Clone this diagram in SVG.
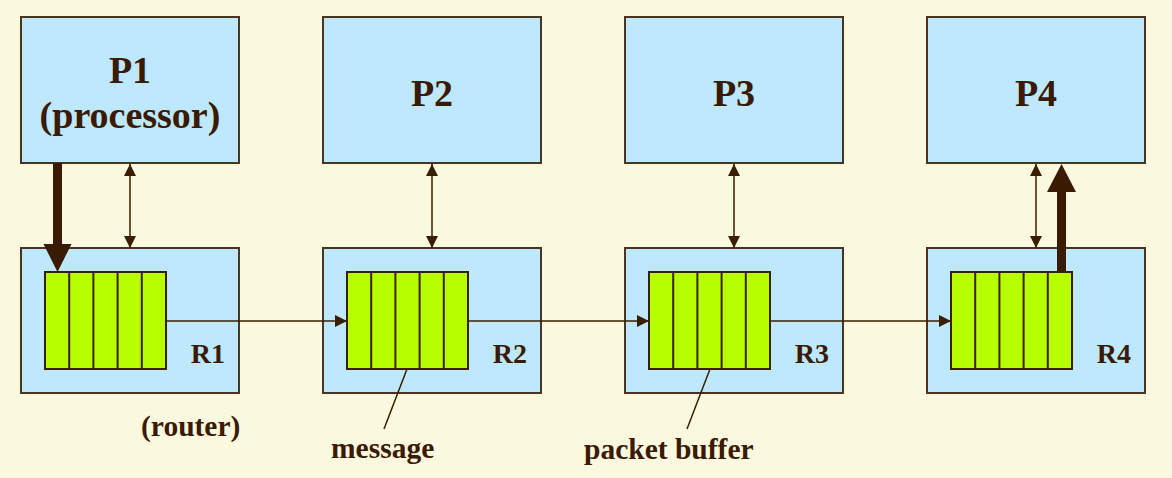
<svg xmlns="http://www.w3.org/2000/svg" width="1172" height="478" viewBox="0 0 1172 478">
<defs>
<style>
.bg{fill:#FAF8DE}
.box{fill:#BDE8FD;stroke:#4A3422;stroke-width:2}
.buf{fill:#B7FF00;stroke:#3A1E00;stroke-width:2}
.cell{stroke:#3A1E00;stroke-width:2}
.thin{stroke:#3A1E00;stroke-width:1.5;fill:none}
.thick{fill:#3A1A00}
.big{font-family:'Liberation Serif','Times New Roman',Times,'DejaVu Serif',serif;font-weight:700;font-size:38px;fill:#3A1A00;text-anchor:middle}
.small{font-family:'Liberation Serif','Times New Roman',Times,'DejaVu Serif',serif;font-weight:700;font-size:29.5px;fill:#3A1A00}
.rl{font-family:'Liberation Serif','Times New Roman',Times,'DejaVu Serif',serif;font-weight:700;font-size:28px;fill:#3A1A00;text-anchor:end}
</style>
<marker id="ah" viewBox="0 0 12 12" refX="12" refY="6" markerWidth="12" markerHeight="12" markerUnits="userSpaceOnUse" orient="auto-start-reverse">
<path d="M0,0 L12,6 L0,12 z" fill="#3A1E00"/>
</marker>
</defs>
<rect class="bg" x="0" y="0" width="1172" height="478"/>

<g id="P1"><rect class="box" x="21" y="17" width="218" height="146"/><text class="big" x="130" y="83">P1</text><text class="big" x="130" y="128">(processor)</text></g>
<g id="P2"><rect class="box" x="323" y="17" width="218" height="146"/><text class="big" x="432" y="106">P2</text></g>
<g id="P3"><rect class="box" x="625" y="17" width="218" height="146"/><text class="big" x="734" y="106">P3</text></g>
<g id="P4"><rect class="box" x="927" y="17" width="218" height="146"/><text class="big" x="1036" y="106">P4</text></g>

<g id="R1"><rect class="box" x="21" y="248" width="218" height="145"/>
<rect class="buf" x="45" y="272" width="121" height="97"/>
<path class="cell" d="M69.2,272V369M93.4,272V369M117.6,272V369M141.8,272V369"/>
<text class="rl" x="225" y="363">R1</text></g>
<g id="R2"><rect class="box" x="323" y="248" width="218" height="145"/>
<rect class="buf" x="347" y="272" width="121" height="97"/>
<path class="cell" d="M371.2,272V369M395.4,272V369M419.6,272V369M443.8,272V369"/>
<text class="rl" x="527" y="363">R2</text></g>
<g id="R3"><rect class="box" x="625" y="248" width="218" height="145"/>
<rect class="buf" x="649" y="272" width="121" height="97"/>
<path class="cell" d="M673.2,272V369M697.4,272V369M721.6,272V369M745.8,272V369"/>
<text class="rl" x="829" y="363">R3</text></g>
<g id="R4"><rect class="box" x="927" y="248" width="218" height="145"/>
<rect class="buf" x="951" y="272" width="121" height="97"/>
<path class="cell" d="M975.2,272V369M999.4,272V369M1023.6,272V369M1047.8,272V369"/>
<text class="rl" x="1131" y="363">R4</text></g>

<g id="connectors">
<line class="thin" x1="130" y1="164" x2="130" y2="248" marker-start="url(#ah)" marker-end="url(#ah)"/>
<line class="thin" x1="432" y1="164" x2="432" y2="248" marker-start="url(#ah)" marker-end="url(#ah)"/>
<line class="thin" x1="734" y1="164" x2="734" y2="248" marker-start="url(#ah)" marker-end="url(#ah)"/>
<line class="thin" x1="1036" y1="164" x2="1036" y2="248" marker-start="url(#ah)" marker-end="url(#ah)"/>
<line class="thin" x1="166" y1="321" x2="347" y2="321" marker-end="url(#ah)"/>
<line class="thin" x1="468" y1="321" x2="649" y2="321" marker-end="url(#ah)"/>
<line class="thin" x1="770" y1="321" x2="951" y2="321" marker-end="url(#ah)"/>
<path class="thick" d="M53,163H62V244H71.5L57.5,272L43.5,244H53z"/>
<path class="thick" d="M1057,272V192H1047L1061.5,164L1076,192H1066V272z"/>
<line class="thin" x1="407" y1="369" x2="384" y2="429"/>
<line class="thin" x1="710" y1="369" x2="687" y2="429"/>
</g>

<g id="labels">
<text class="small" x="141" y="436">(router)</text>
<text class="small" x="331" y="458">message</text>
<text class="small" x="584" y="459">packet buffer</text>
</g>
</svg>
